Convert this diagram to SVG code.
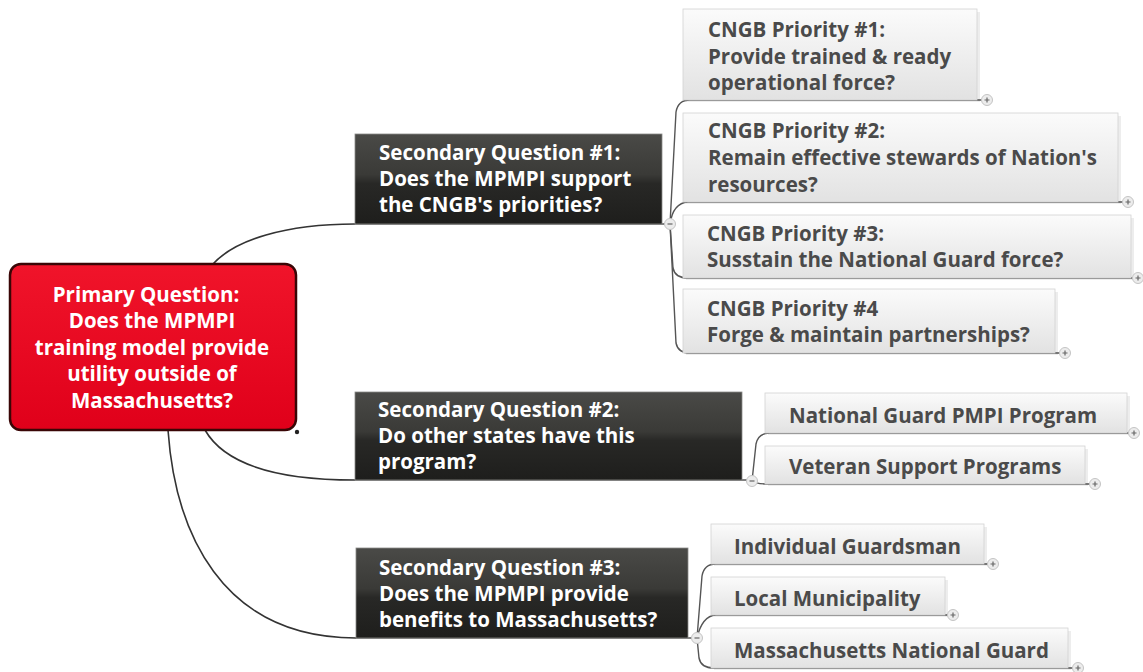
<svg xmlns="http://www.w3.org/2000/svg" width="1143" height="672" viewBox="0 0 1143 672">
<defs>
<linearGradient id="gRed" x1="0" y1="0" x2="0" y2="1">
<stop offset="0" stop-color="#f0142a"/>
<stop offset="1" stop-color="#e0001a"/>
</linearGradient>
<linearGradient id="gDark" x1="0" y1="0" x2="0" y2="1">
<stop offset="0" stop-color="#4a4a47"/>
<stop offset="0.45" stop-color="#3a3a37"/>
<stop offset="0.55" stop-color="#282826"/>
<stop offset="1" stop-color="#1e1e1c"/>
</linearGradient>
<linearGradient id="gLeaf" x1="0" y1="0" x2="0" y2="1">
<stop offset="0" stop-color="#fbfbfb"/>
<stop offset="1" stop-color="#e2e2e2"/>
</linearGradient>
<g id="plus">
<circle r="5.5" fill="#ececec" stroke="#c4c4c4" stroke-width="1"/>
<path d="M-2.5,0H2.5M0,-2.5V2.5" stroke="#666" stroke-width="1.2"/>
</g>
<g id="minus">
<circle r="5.5" fill="#ececec" stroke="#c4c4c4" stroke-width="1"/>
<path d="M-2.5,0H2.5" stroke="#666" stroke-width="1.2"/>
</g>
</defs>
<style>
text{font-family:"Open Sans","Noto Sans","Liberation Sans",sans-serif;font-weight:700;font-size:20.5px}
.pt{fill:#fff;text-anchor:middle}
.st{fill:#fff}
.lt{fill:#4a4a4a}
.sec{fill:url(#gDark);stroke:#8a8a88;stroke-width:0.8}
.leaf{fill:url(#gLeaf);stroke:#d2d2d2;stroke-width:0.8}
.shadow{fill:#000;opacity:0.07}
.conn{fill:none;stroke:#333;stroke-width:1.6}
.ul{fill:none;stroke:#555;stroke-width:1.4}
</style>

<g id="connectors">
<path class="conn" d="M213,264 C235,240 285,224 355,224"/>
<path class="conn" d="M205,430 C225,465 280,480 355,480"/>
<path class="conn" d="M168,430 C175,530 220,638 356,638"/>
<path class="ul" d="M355,224 H665"/>
<path class="ul" d="M355,480 H747"/>
<path class="ul" d="M356,638 H692"/>
<path class="ul" d="M670,224 L676,112 Q678,100 690,100 H982"/>
<path class="ul" d="M670,224 Q673,203 688,202 H1123"/>
<path class="ul" d="M670,224 L673,268 Q675,278 688,278 H1133"/>
<path class="ul" d="M670,224 L676,343 Q678,353 690,353 H1060"/>
<path class="ul" d="M752,481 L756,444 Q758,433 770,433 H1129"/>
<path class="ul" d="M752,481 Q756,484 768,484 H1090"/>
<path class="ul" d="M697,638 L702,576 Q704,564 716,564 H988"/>
<path class="ul" d="M697,638 Q702,616 716,615 H948"/>
<path class="ul" d="M697,638 L699,658 Q701,668 714,668 H1073"/>
</g>

<g id="primary">
<rect x="10" y="264" width="286" height="166" rx="11" fill="url(#gRed)" stroke="#3a0606" stroke-width="2.5"/>
<circle cx="297" cy="432" r="2.2" fill="#222"/>
<text class="pt" x="146" y="302">Primary Question:</text>
<text class="pt" x="152" y="328">Does the MPMPI</text>
<text class="pt" x="152" y="355">training model provide</text>
<text class="pt" x="152" y="381">utility outside of</text>
<text class="pt" x="152" y="408">Massachusetts?</text>
</g>

<g id="sec1">
<rect class="sec" x="355" y="134" width="307" height="90"/>
<text class="st" x="379" y="160">Secondary Question #1:</text>
<text class="st" x="379" y="186">Does the MPMPI support</text>
<text class="st" x="379" y="212">the CNGB's priorities?</text>
<use href="#minus" x="670" y="224"/>
</g>

<g id="sec2">
<rect class="sec" x="355" y="392" width="387" height="88"/>
<text class="st" x="378" y="417">Secondary Question #2:</text>
<text class="st" x="378" y="443">Do other states have this</text>
<text class="st" x="378" y="469">program?</text>
<use href="#minus" x="752" y="481"/>
</g>

<g id="sec3">
<rect class="sec" x="356" y="548" width="332" height="90"/>
<text class="st" x="379" y="575">Secondary Question #3:</text>
<text class="st" x="379" y="601">Does the MPMPI provide</text>
<text class="st" x="379" y="627">benefits to Massachusetts?</text>
<use href="#minus" x="697" y="638"/>
</g>

<g id="p1">
<rect class="shadow" x="686" y="12" width="294" height="90"/>
<rect class="leaf" x="683" y="9" width="294" height="91"/>
<text class="lt" x="708" y="37">CNGB Priority #1:</text>
<text class="lt" x="708" y="64">Provide trained &amp; ready</text>
<text class="lt" x="708" y="90">operational force?</text>
<use href="#plus" x="987" y="100"/>
</g>

<g id="p2">
<rect class="shadow" x="686" y="116" width="435" height="88"/>
<rect class="leaf" x="683" y="113" width="435" height="89"/>
<text class="lt" x="708" y="138">CNGB Priority #2:</text>
<text class="lt" x="708" y="165">Remain effective stewards of Nation's</text>
<text class="lt" x="708" y="192">resources?</text>
<use href="#plus" x="1128" y="202"/>
</g>

<g id="p3">
<rect class="shadow" x="686" y="218" width="448" height="62"/>
<rect class="leaf" x="683" y="215" width="448" height="63"/>
<text class="lt" x="707" y="241">CNGB Priority #3:</text>
<text class="lt" x="707" y="267">Susstain the National Guard force?</text>
<use href="#plus" x="1138" y="278"/>
</g>

<g id="p4">
<rect class="shadow" x="686" y="292" width="372" height="63"/>
<rect class="leaf" x="683" y="289" width="372" height="64"/>
<text class="lt" x="707" y="316">CNGB Priority #4</text>
<text class="lt" x="707" y="342">Forge &amp; maintain partnerships?</text>
<use href="#plus" x="1065" y="353"/>
</g>

<g id="ngpmpi">
<rect class="shadow" x="768" y="396" width="362" height="39"/>
<rect class="leaf" x="765" y="393" width="362" height="40"/>
<text class="lt" x="789" y="423">National Guard PMPI Program</text>
<use href="#plus" x="1134" y="433"/>
</g>

<g id="veteran">
<rect class="shadow" x="768" y="449" width="320" height="37"/>
<rect class="leaf" x="765" y="446" width="320" height="38"/>
<text class="lt" x="789" y="474">Veteran Support Programs</text>
<use href="#plus" x="1095" y="484"/>
</g>

<g id="guardsman">
<rect class="shadow" x="714" y="527" width="273" height="39"/>
<rect class="leaf" x="711" y="524" width="273" height="40"/>
<text class="lt" x="734" y="554">Individual Guardsman</text>
<use href="#plus" x="993" y="564"/>
</g>

<g id="municipality">
<rect class="shadow" x="714" y="580" width="234" height="37"/>
<rect class="leaf" x="711" y="577" width="234" height="38"/>
<text class="lt" x="734" y="606">Local Municipality</text>
<use href="#plus" x="953" y="615"/>
</g>

<g id="mang">
<rect class="shadow" x="714" y="631" width="357" height="39"/>
<rect class="leaf" x="711" y="628" width="357" height="40"/>
<text class="lt" x="734" y="658">Massachusetts National Guard</text>
<use href="#plus" x="1078" y="668"/>
</g>
</svg>
